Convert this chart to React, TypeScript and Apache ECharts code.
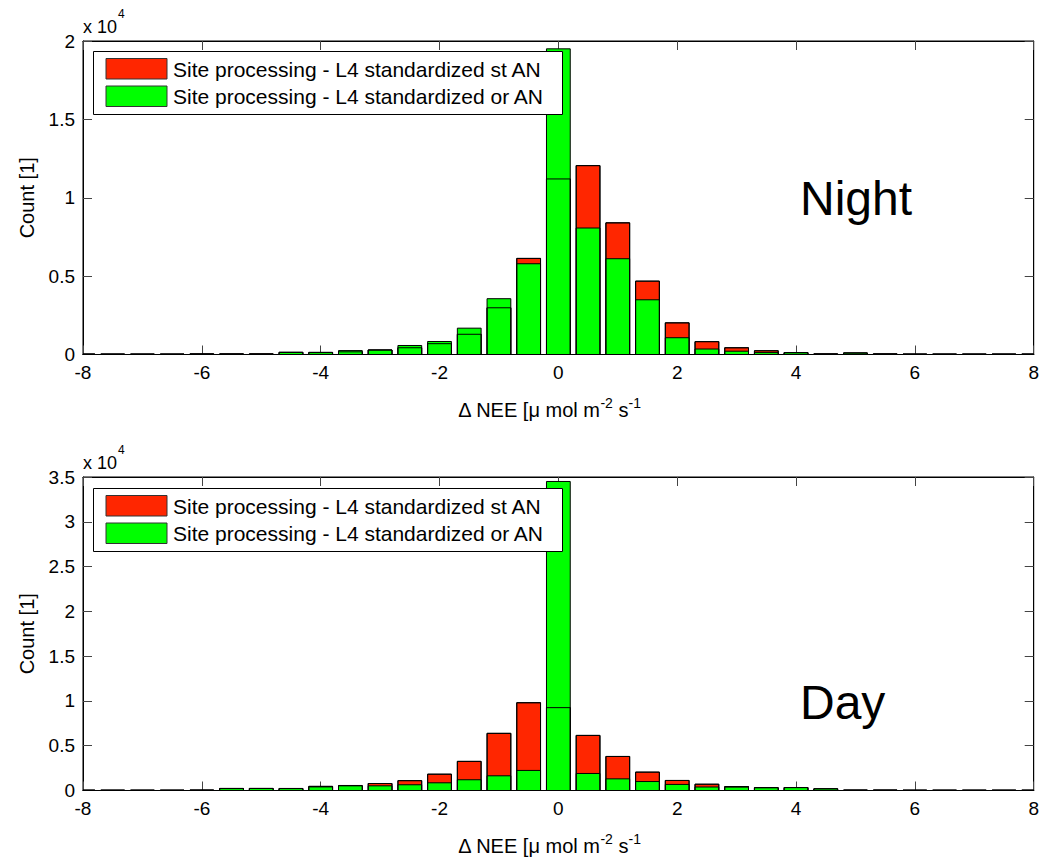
import React, { useEffect, useRef } from "react";
import * as echarts from "echarts";

// Bin centres of the histogram (ΔNEE)
const bins = [-8, -7.5, -7, -6.5, -6, -5.5, -5, -4.5, -4, -3.5, -3, -2.5, -2, -1.5, -1, -0.5, 0, 0.5, 1, 1.5, 2, 2.5, 3, 3.5, 4, 4.5, 5, 5.5, 6, 6.5, 7, 7.5, 8];

// Night counts
const nightSt = [30, 30, 30, 30, 40, 40, 40, 140, 120, 170, 290, 430, 690, 1290, 2980, 6130, 11200, 12050, 8400, 4680, 2020, 820, 430, 240, 120, 40, 100, 40, 30, 30, 30, 30, 30];
const nightOr = [20, 20, 20, 20, 30, 30, 30, 130, 140, 250, 280, 575, 830, 1680, 3560, 5790, 19500, 8070, 6110, 3490, 1070, 350, 210, 120, 110, 30, 90, 30, 20, 20, 20, 20, 20];

// Day counts
const daySt = [40, 40, 40, 40, 50, 230, 220, 210, 460, 520, 780, 1100, 1820, 3250, 6380, 9800, 9250, 6150, 3800, 2050, 1120, 700, 440, 300, 330, 180, 50, 50, 40, 40, 40, 40, 40];
const dayOr = [30, 30, 30, 30, 40, 210, 240, 230, 400, 560, 520, 640, 860, 1200, 1640, 2240, 34500, 1900, 1300, 1000, 680, 390, 380, 330, 320, 200, 40, 40, 30, 30, 30, 30, 30];

const yMax = [20000, 35000];
const yStep = 5000;
const xMin = -8;
const xMax = 8;
const xStep = 2;
const legendLabels = [
  "Site processing - L4 standardized st ANN",
  "Site processing - L4 standardized or ANN",
];
const panelLabels = ["Night", "Day"];

const RED = "#ff2600";
const GREEN = "#00ff00";
const FONT = "'Liberation Sans', Arial, Helvetica, sans-serif";
const HALF_WIDTH = 0.2;

function barSeries(name: string, values: number[], fill: string, g: number, z: number, outline: boolean) {
  return {
    type: "custom",
    name,
    xAxisIndex: g * 2,
    yAxisIndex: g * 2,
    z,
    silent: true,
    data: bins.map((b, i) => [b, values[i]]),
    renderItem: (params: any, api: any) => {
      const x = api.value(0);
      const y = api.value(1);
      const tl = api.coord([x - HALF_WIDTH, y]);
      const br = api.coord([x + HALF_WIDTH, 0]);
      const cs = params.coordSys;
      const shape = echarts.graphic.clipRectByRect(
        { x: tl[0], y: tl[1], width: br[0] - tl[0], height: br[1] - tl[1] },
        { x: cs.x, y: cs.y, width: cs.width, height: cs.height }
      );
      if (!shape) return { type: "group", children: [] };
      return {
        type: "rect",
        shape,
        style: { fill: outline ? "none" : fill, stroke: "#000", lineWidth: 1 },
      };
    },
  };
}

const gridTops = [41, 477];
const gridHeight = 313.5;

export default function App() {
  const ref = useRef<HTMLDivElement>(null);
  useEffect(() => {
    if (!ref.current) return;
    const chart = echarts.init(ref.current, undefined, { renderer: "svg" });

    const grids = gridTops.map((t) => ({
      left: 83,
      top: t,
      width: 954,
      height: gridHeight,
      show: true,
      borderColor: "#000",
      borderWidth: 1,
      backgroundColor: "#fff",
    }));

    const xAxes: any[] = [];
    const yAxes: any[] = [];
    [0, 1].forEach((g) => {
      xAxes.push({
        type: "value",
        gridIndex: g,
        min: xMin,
        max: xMax,
        interval: xStep,
        position: "bottom",
        axisLine: { show: true, onZero: false, lineStyle: { color: "#000" } },
        axisTick: { show: true, inside: true, length: 9, lineStyle: { color: "#444" } },
        axisLabel: { color: "#000", fontSize: 19, fontFamily: FONT, margin: 8 },
        splitLine: { show: false },
        name: "{n|Δ NEE [μ mol m}{s|-2}{n| s}{s|-1}",
        nameLocation: "middle",
        nameGap: 41,
        nameTextStyle: {
          padding: [0, 18, 0, 0],
          rich: {
            n: { fontSize: 20, fontFamily: FONT, color: "#000", lineHeight: 24, verticalAlign: "bottom" },
            s: { fontSize: 14, fontFamily: FONT, color: "#000", lineHeight: 24, verticalAlign: "top" },
          },
        },
      });
      xAxes.push({
        type: "value",
        gridIndex: g,
        min: xMin,
        max: xMax,
        interval: xStep,
        position: "top",
        axisLine: { show: true, onZero: false, lineStyle: { color: "#000" } },
        axisTick: { show: true, inside: true, length: 9, lineStyle: { color: "#444" } },
        axisLabel: { show: false },
        splitLine: { show: false },
      });
      yAxes.push({
        type: "value",
        gridIndex: g,
        min: 0,
        max: yMax[g],
        interval: yStep,
        position: "left",
        axisLine: { show: true, onZero: false, lineStyle: { color: "#000" } },
        axisTick: { show: true, inside: true, length: 9, lineStyle: { color: "#444" } },
        axisLabel: {
          color: "#000",
          fontSize: 19,
          fontFamily: FONT,
          margin: 8,
          formatter: (v: number) => String(v / 10000),
        },
        splitLine: { show: false },
        name: "Count [1]",
        nameLocation: "middle",
        nameGap: 46,
        nameTextStyle: { fontSize: 20, fontFamily: FONT, color: "#000" },
      });
      yAxes.push({
        type: "value",
        gridIndex: g,
        min: 0,
        max: yMax[g],
        interval: yStep,
        position: "right",
        axisLine: { show: true, onZero: false, lineStyle: { color: "#000" } },
        axisTick: { show: true, inside: true, length: 9, lineStyle: { color: "#444" } },
        axisLabel: { show: false },
        splitLine: { show: false },
      });
    });

    const stData = [nightSt, daySt];
    const orData = [nightOr, dayOr];
    const series: any[] = [];
    [0, 1].forEach((g) => {
      series.push(barSeries(legendLabels[0], stData[g], RED, g, 2, false));
      series.push(barSeries(legendLabels[1], orData[g], GREEN, g, 3, false));
      series.push(barSeries(legendLabels[0] + " edge", stData[g], RED, g, 4, true));
    });

    const legendTops = [51, 488];
    const graphics: any[] = [];
    [0, 1].forEach((g) => {
      const lt = legendTops[g];
      graphics.push({
        type: "rect",
        z: 100,
        shape: { x: 93.5, y: lt + 0.5, width: 469, height: 63 },
        style: { fill: "#fff", stroke: "#000", lineWidth: 1 },
      });
      [0, 1].forEach((r) => {
        const sy = lt + 7.5 + r * 27.5;
        graphics.push({
          type: "rect",
          z: 101,
          shape: { x: 106, y: sy, width: 61, height: 20.5 },
          style: { fill: r === 0 ? RED : GREEN, stroke: "#333", lineWidth: 1 },
        });
        graphics.push({
          type: "text",
          z: 101,
          x: 173,
          y: sy + 10.5,
          style: {
            text: legendLabels[r],
            fontSize: 21,
            fontFamily: FONT,
            fill: "#000",
            verticalAlign: "middle",
            align: "left",
            width: 380,
            overflow: "truncate",
            ellipsis: "",
          },
        });
      });
      const top = gridTops[g];
      graphics.push({
        type: "text",
        z: 101,
        x: 83,
        y: top - 14,
        style: { text: "x 10", fontSize: 18, fontFamily: FONT, fill: "#000", verticalAlign: "middle", align: "left" },
      });
      graphics.push({
        type: "text",
        z: 101,
        x: 118,
        y: top - 27,
        style: { text: "4", fontSize: 12, fontFamily: FONT, fill: "#000", verticalAlign: "middle", align: "left" },
      });
    });
    graphics.push({
      type: "text",
      z: 101,
      x: 800,
      y: 198.5,
      style: { text: panelLabels[0], fontSize: 48, fontFamily: FONT, fill: "#000", verticalAlign: "middle", align: "left" },
    });
    graphics.push({
      type: "text",
      z: 101,
      x: 800,
      y: 702,
      style: { text: panelLabels[1], fontSize: 48, fontFamily: FONT, fill: "#000", verticalAlign: "middle", align: "left" },
    });

    chart.setOption({
      animation: false,
      backgroundColor: "#fff",
      grid: grids,
      xAxis: xAxes,
      yAxis: yAxes,
      series,
      graphic: graphics,
    });
    return () => chart.dispose();
  }, []);
  return (
    <div
      ref={ref}
      style={{ position: "fixed", left: 0, top: 0, width: 1042, height: 858, background: "#fff" }}
    />
  );
}
